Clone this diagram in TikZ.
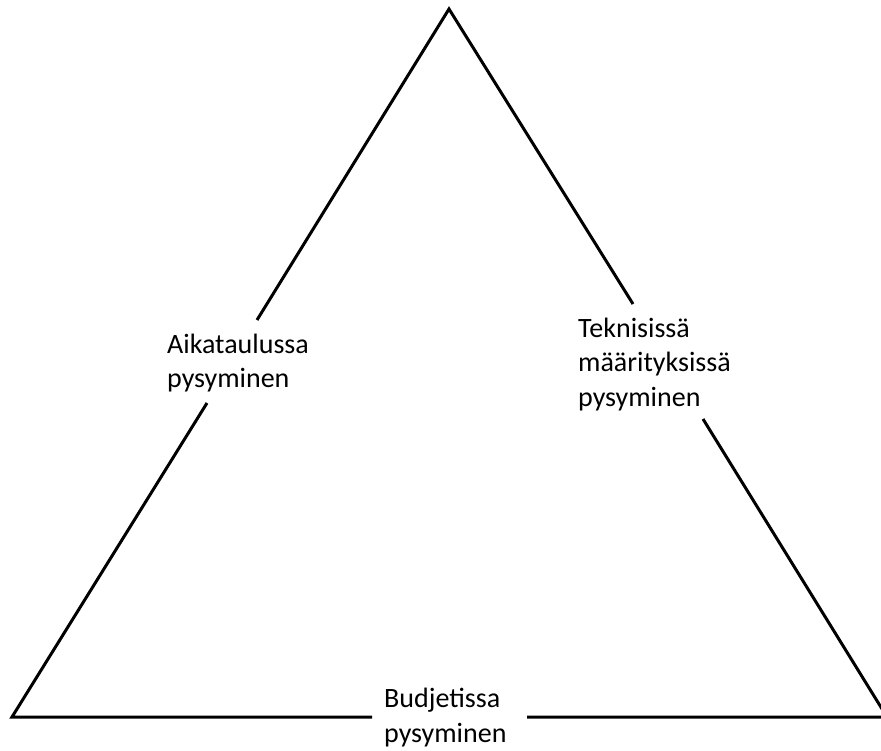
\documentclass[tikz,border=0pt]{standalone}
\usepackage{fontspec}
\setmainfont{Carlito}
\begin{document}
\begin{tikzpicture}[x=1pt,y=-1pt,
  edge/.style={line width=3pt,line cap=butt,line join=miter},
  lbl/.style={inner sep=0pt,anchor=base west,align=left,font=\fontsize{28pt}{34.5pt}\selectfont}]
\useasboundingbox (0,0) rectangle (881,751);
\coordinate (A) at (449,9);
\coordinate (L) at (12,717);
\coordinate (R) at (887,717);
\coordinate (l1) at (257,320);
\coordinate (l2) at (207,403);
\coordinate (r1) at (633,304);
\coordinate (r2) at (703,419);
\coordinate (b1) at (372,717);
\coordinate (b2) at (527,717);
\draw[edge] (l1) -- (A) -- (r1);
\draw[edge] (l2) -- (L) -- (b1);
\draw[edge] (b2) -- (R) -- (r2);
\node[lbl] (aik) at (167,388) {Aikataulussa\\pysyminen};
\node[lbl] (tek) at (578,406) {Teknisissä\\määrityksissä\\pysyminen};
\node[lbl] (bud) at (384,742) {Budjetissa\\pysyminen};
\end{tikzpicture}
\end{document}
